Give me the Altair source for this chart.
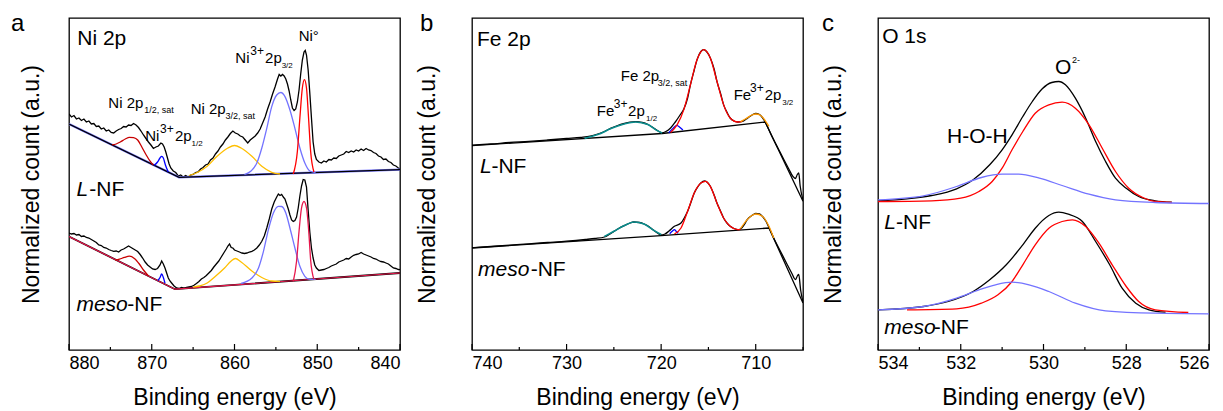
import altair as alt
import pandas as pd

FONT = "Liberation Sans"
W, H = 331, 332

# ---------------- Panel a : Ni 2p ----------------
ni_ticks = [880, 870, 860, 850, 840]
ni_minor = [875, 865, 855, 845]
ni_l_raw = [(880.0, 236), (879.7, 233), (879.4, 234.5), (879.1, 231), (878.8, 232), (878.5, 229.5), (878.2, 231),
            (877.9, 228), (877.6, 229), (877.3, 226), (877.0, 226.5), (876.7, 223.5), (876.4, 224), (876.1, 221),
            (875.8, 222), (875.5, 219), (875.2, 220), (874.9, 217.5), (874.6, 217), (874.3, 219), (874.0, 220.5),
            (873.7, 221.5), (873.4, 223.5), (873.1, 223), (872.8, 225), (872.5, 224.5), (872.2, 226.5), (871.9, 225),
            (871.6, 222.5), (871.3, 219), (871.0, 215), (870.7, 211.5), (870.4, 208), (870.1, 205), (869.8, 201.5),
            (869.5, 203), (869.2, 204), (868.9, 207), (868.7, 206), (868.5, 203), (868.3, 198), (868.1, 192),
            (867.9, 186), (867.7, 182), (867.4, 179), (867.1, 177.5), (866.8, 174), (866.5, 175), (866.2, 173),
            (865.9, 174.5), (865.6, 173), (865.3, 175), (865.0, 175.5), (864.7, 177.5), (864.4, 178), (864.1, 181),
            (863.8, 182.5), (863.5, 185), (863.2, 186), (862.9, 190), (862.6, 192), (862.3, 196), (862.0, 199),
            (861.7, 203), (861.4, 206), (861.1, 210), (860.8, 213), (860.5, 216.5), (860.2, 219), (859.9, 217),
            (859.6, 216), (859.3, 214), (859.0, 213), (858.7, 210), (858.4, 207), (858.1, 210), (857.8, 212),
            (857.5, 214), (857.2, 217), (856.9, 221), (856.6, 227), (856.3, 233), (856.0, 241), (855.7, 248),
            (855.4, 256), (855.1, 263), (854.8, 271), (854.6, 275.5), (854.4, 274), (854.2, 275.5), (854.0, 274),
            (853.8, 271), (853.6, 266), (853.4, 259), (853.2, 250), (853.0, 242), (852.8, 239.5), (852.6, 241),
            (852.4, 248), (852.2, 260), (852.0, 276), (851.8, 290), (851.6, 298), (851.45, 299.5), (851.3, 295),
            (851.1, 280), (850.9, 257), (850.7, 232), (850.5, 208), (850.3, 196), (850.1, 190.5), (849.8, 188),
            (849.5, 187), (849.2, 189), (848.9, 188), (848.6, 190.5), (848.3, 190), (848.0, 192), (847.7, 191.5),
            (847.4, 194), (847.1, 195), (846.8, 196), (846.5, 198.5), (846.2, 197.5), (845.9, 199), (845.6, 198),
            (845.3, 200), (845.0, 199), (844.7, 201), (844.4, 199.5), (844.1, 201.5), (843.8, 200), (843.5, 199.5),
            (843.2, 197.5), (842.9, 196.5), (842.6, 194), (842.3, 193), (842.0, 190.5), (841.7, 191), (841.4, 188.5),
            (841.1, 187.5), (840.8, 185), (840.5, 184), (840.2, 182), (840.0, 181)]
ni_m_raw = [(880.0, 117), (879.7, 116), (879.4, 116.5), (879.1, 115), (878.8, 115.5), (878.5, 113.5), (878.2, 114),
            (877.9, 112.5), (877.6, 112), (877.3, 110.5), (877.0, 109), (876.7, 107.5), (876.4, 105), (876.1, 104.5),
            (875.8, 102.5), (875.5, 102), (875.2, 100.5), (874.9, 99.5), (874.6, 98.7), (874.3, 99), (874.0, 98),
            (873.7, 100), (873.4, 101), (873.1, 102.5), (872.8, 104), (872.6, 103), (872.3, 101.5), (872.0, 100),
            (871.7, 98.5), (871.4, 95.5), (871.1, 92), (870.8, 88), (870.5, 85), (870.2, 83), (869.9, 81),
            (869.6, 80.5), (869.3, 81.5), (869.0, 85), (868.8, 89), (868.6, 86), (868.4, 82), (868.2, 77),
            (868.0, 72), (867.8, 69), (867.6, 67), (867.3, 64), (867.0, 62), (866.7, 61.5), (866.4, 62.5),
            (866.1, 61.8), (865.8, 62.5), (865.5, 63), (865.2, 63.5), (864.9, 64.7), (864.6, 66.5), (864.3, 68.5),
            (864.0, 71), (863.7, 72.5), (863.4, 74.5), (863.1, 77), (862.8, 79.5), (862.5, 83), (862.2, 86),
            (861.9, 89), (861.6, 93), (861.3, 97), (861.0, 101), (860.8, 104), (860.6, 106), (860.4, 102.5),
            (860.2, 102), (860.0, 100), (859.7, 99), (859.4, 98), (859.1, 97), (858.8, 96.5), (858.5, 97),
            (858.2, 98), (857.9, 98.7), (857.6, 100), (857.3, 102), (857.0, 105), (856.7, 108.7), (856.4, 114),
            (856.1, 122), (855.8, 131), (855.5, 141), (855.2, 148), (854.9, 153), (854.7, 156), (854.5, 154.5),
            (854.3, 155.5), (854.1, 153), (853.9, 151), (853.7, 146), (853.5, 141), (853.3, 135), (853.1, 130),
            (852.9, 128.5), (852.7, 129.5), (852.5, 133), (852.3, 142), (852.1, 154), (851.9, 164), (851.7, 170.5),
            (851.5, 170), (851.3, 163), (851.1, 140), (850.9, 118), (850.7, 102), (850.5, 92), (850.3, 85),
            (850.1, 82), (849.8, 79.5), (849.5, 80), (849.2, 80.5), (848.9, 81.5), (848.6, 82.5), (848.3, 84),
            (848.0, 85), (847.7, 86), (847.4, 88), (847.1, 89), (846.8, 90), (846.5, 91.5), (846.2, 91),
            (845.9, 93), (845.6, 94.7), (845.3, 95.5), (845.0, 96), (844.7, 97.5), (844.4, 96), (844.1, 95),
            (843.8, 94), (843.5, 93), (843.2, 91.5), (842.9, 91), (842.6, 89.5), (842.3, 88.5), (842.0, 88),
            (841.7, 87), (841.4, 86), (841.1, 84), (840.8, 82), (840.5, 81.5), (840.2, 80.5), (840.0, 80.4)]
ni_l_bg = [(880, 226), (866.7, 172.7), (840, 180.4)]
ni_m_bg = [(880, 113.5), (867.2, 60.8), (840, 77)]
ni_l_sat12 = [(874.8, 205.2), (874.3, 206), (873.8, 208), (873.2, 211), (872.7, 212.7), (872.2, 212.3),
              (871.7, 210), (871.2, 203), (870.7, 195.5), (870.2, 188.8), (869.8, 185)]
ni_l_p12 = [(869.7, 184.7), (869.3, 188), (869.0, 192), (868.8, 193.7), (868.6, 192), (868.35, 185), (868.0, 177.9)]
ni_l_sat32 = [(865.5, 174.5), (864.5, 177.5), (863.3, 183.7), (862.1, 193.7), (860.8, 202), (860.0, 204.5),
              (859.2, 202), (857.9, 193.7), (856.7, 183.7), (855.5, 177.7), (854.5, 176)]
ni_l_p32 = [(858.8, 175.5), (858.0, 179), (857.3, 187), (856.7, 202), (856.1, 221.7), (855.5, 243.4), (854.9, 255),
            (854.4, 257.5), (853.9, 253.4), (853.3, 240), (852.7, 221.7), (852.1, 202), (851.5, 187), (850.9, 179),
            (850.2, 177.4)]
ni_l_ni0 = [(852.9, 176), (852.4, 198.7), (852.1, 232), (851.8, 262), (851.55, 270.4), (851.3, 262), (851.05, 232),
            (850.8, 198.7), (850.4, 178)]
ni_m_sat12 = [(874.4, 89.9), (873.9, 90.8), (873.3, 92.6), (872.7, 93.8), (872.1, 91.6), (871.5, 86), (871.0, 80),
              (870.4, 74.1)]
ni_m_p12 = [(869.25, 69.5), (869.0, 72.5), (868.8, 76), (868.6, 72.5), (868.4, 66.8)]
ni_m_sat32 = [(865.0, 62.8), (864.3, 64), (863.3, 67), (862.3, 73.7), (861.2, 82), (860.4, 89), (859.9, 91.5),
              (859.2, 88), (857.9, 79), (856.7, 72.5), (855.5, 69), (854.5, 68.7)]
ni_m_p32 = [(859.2, 66.5), (857.9, 72), (857.1, 82), (856.5, 98.7), (855.9, 120.4), (855.3, 137), (854.7, 143.7),
            (854.3, 143.5), (853.8, 137), (853.3, 122), (852.7, 102), (852.1, 83.7), (851.5, 73.7), (850.9, 70.6),
            (850.2, 70.6)]
ni_m_ni0 = [(852.9, 68.5), (852.5, 88.7), (852.2, 118.7), (851.9, 142), (851.6, 148.5), (851.3, 142), (851.0, 115.4),
            (850.8, 90), (850.4, 70.6)]
ni_text = [("Ni 2p", 879.0, 304.7, 21), ("Ni 2p", 875.25, 241.7, 15), ("1/2, sat", 870.9, 237.5, 9),
           ("Ni 2p", 865.3, 235.7, 15), ("3/2, sat", 861.1, 231.5, 9),
           ("Ni", 870.8, 208.7, 15), ("3+", 869.0, 217.5, 12), ("2p", 867.2, 208.7, 15), ("1/2", 865.2, 204.5, 8),
           ("Ni", 859.9, 286.7, 15), ("3+", 858.1, 295.5, 12), ("2p", 856.3, 286.7, 15), ("3/2", 854.3, 282.5, 8),
           ("Ni°", 852.25, 308.7, 15), ("-NF", 877.55, 153.7, 21), ("-NF", 872.95, 38.7, 21)]
ni_italic = [("L", 879.1, 153.7, 21), ("meso", 879.1, 38.7, 21)]

# ---------------- Panel b : Fe 2p ----------------
fe_ticks = [740, 730, 720, 710]
fe_minor = [735, 725, 715, 705]
fe_l_raw = [(740, 204.8), (738, 206), (736, 207.5), (734, 208.6), (732, 210), (730, 211.5), (728.5, 212.6),
            (727.5, 213.8), (726.7, 216), (726, 218.5), (725.3, 221.8), (724.6, 224.5), (723.9, 226.5),
            (723.3, 227.8), (722.7, 228.3), (722, 227.5), (721.4, 225.5), (720.9, 222.8), (720.4, 219.5),
            (719.9, 217.2), (719.5, 218.5), (719, 222), (718.5, 228), (718, 235), (717.6, 241), (717.2, 252),
            (716.9, 265.4), (716.5, 280), (716.2, 290.4), (715.8, 298.5), (715.5, 300.4), (715.2, 298.5),
            (714.8, 292), (714.4, 281), (714.1, 268.7), (713.7, 256), (713.4, 245.4), (713, 237), (712.7, 232),
            (712.3, 229), (711.9, 228), (711.4, 228.7), (711, 231), (710.7, 233), (710.3, 235.5), (710, 236.5),
            (709.6, 235.5), (709.3, 232.5), (709, 228), (708.6, 220), (708.2, 212), (707.6, 201), (707, 190),
            (706.5, 181), (706.1, 174), (705.8, 171.5), (705.6, 175.5), (705.45, 177), (705.3, 164), (705, 150)]
fe_m_raw = [(740, 102.3), (738, 103.5), (736, 104.8), (734, 106.2), (732, 107.5), (730, 108.8), (728, 110.5),
            (727, 111.5), (726, 113), (725.5, 115.5), (725, 118.5), (724.5, 121.5), (723.9, 124.4), (723.4, 126.5),
            (722.9, 128), (722.3, 127.5), (721.8, 126), (721.3, 123.5), (720.9, 120.4), (720.4, 117), (720, 115),
            (719.6, 116), (719.2, 118.7), (718.6, 123.7), (717.9, 127), (717.5, 133), (717.2, 138.7), (716.8, 149),
            (716.5, 157), (716.1, 163.5), (715.8, 167), (715.4, 169), (715.1, 167.5), (714.8, 163.7), (714.4, 155),
            (714.1, 147), (713.7, 138.5), (713.4, 132), (713, 126.5), (712.7, 123.7), (712.3, 121.5), (711.9, 120.4),
            (711.6, 121), (711.2, 125.5), (710.9, 130.4), (710.4, 134.5), (710, 136.5), (709.6, 136), (709.3, 133.7),
            (708.9, 128.5), (708.6, 122.5), (708.1, 112), (707.4, 99), (706.7, 86), (706.2, 77), (705.8, 70.4),
            (705.6, 74), (705.45, 75.5), (705.25, 60), (705, 48)]
fe_l_bg = [(740, 204.4), (719.9, 216.5), (709, 228), (705, 148.7)]
fe_m_bg = [(740, 102), (720, 114.4), (708.6, 122), (705, 47)]
fe_l_p12 = [(728.1, 211.6), (726.7, 215.4), (725.3, 221.4), (723.9, 226), (722.7, 228), (721.4, 225.4),
            (720.6, 220.4), (719.9, 217)]
fe_l_sat = [(719.2, 217.3), (718.7, 222), (718.35, 224.7), (718.0, 222.5), (717.7, 220)]
fe_l_p32 = [(719.0, 217.6), (718.3, 225.4), (717.6, 240.4), (716.9, 265.4), (716.2, 290.4), (715.5, 300.4),
            (714.8, 292), (714.1, 268.7), (713.4, 245.4), (712.7, 232), (711.9, 228), (711.4, 228.7)]
fe_l_p32b = [(711.6, 228.3), (711.0, 231.5), (710.4, 235), (710.0, 236), (709.5, 234.7), (709.0, 229.4),
             (708.6, 223.7)]
fe_m_p12 = [(726, 113.5), (725, 118.7), (723.9, 124.4), (722.9, 128), (721.8, 126), (720.9, 120.4), (720, 115.4)]
fe_m_sat = [(719.1, 116.3), (718.8, 119), (718.6, 120.4), (718.4, 118.5), (718.2, 116.8)]
fe_m_p32 = [(718.6, 116), (717.9, 122), (717.2, 138.7), (716.5, 157), (715.8, 167), (715.3, 168.7), (714.8, 163.7),
            (714.1, 147), (713.4, 132), (712.7, 123.7), (711.9, 120.4), (711.6, 120.6)]
fe_m_p32b = [(711.6, 121.5), (710.9, 130.4), (710.4, 134.5), (710, 136), (709.3, 133.7), (708.6, 123.7),
             (708.1, 112)]
fe_text = [("Fe 2p", 739.47, 303.7, 21), ("Fe 2p", 724.27, 268.7, 15), ("3/2, sat", 720.36, 264.5, 9),
           ("Fe", 726.8, 233.7, 15), ("3+", 725.0, 242.5, 12), ("2p", 723.5, 233.7, 15), ("1/2", 721.6, 229.5, 8),
           ("Fe", 712.33, 249.7, 15), ("3+", 710.6, 258.5, 12), ("2p", 709.05, 249.7, 15), ("3/2", 707.2, 245.5, 8),
           ("-NF", 737.95, 176.7, 21), ("-NF", 733.8, 73.7, 21)]
fe_italic = [("L", 739.16, 176.7, 21), ("meso", 739.37, 73.7, 21)]

# ---------------- Panel c : O 1s ----------------
o_ticks = [534, 532, 530, 528, 526]
o_minor = [533, 531, 529, 527]
o_l_raw = [(534, 149.2), (533.3, 151.2), (532.7, 154.5), (532.1, 161.2), (531.7, 170.2), (531.3, 185.2),
           (531.0, 200.2), (530.76, 215.2), (530.5, 233.5), (530.27, 248.5), (530.03, 261.2), (529.8, 267.5),
           (529.63, 268.5), (529.47, 265.2), (529.23, 251.8), (528.98, 231.8), (528.74, 208.5), (528.5, 188.5),
           (528.26, 171.8), (528.0, 161.8), (527.7, 153.5), (527.3, 149.2), (526.9, 147.8)]
o_l_o2 = [(534, 148.5), (532.7, 149.2), (532.0, 151.8), (531.56, 158.5), (531.24, 168.5), (531.0, 181.8),
          (530.76, 200.2), (530.5, 218.5), (530.2, 236.8), (529.87, 245.2), (529.55, 247.8), (529.23, 241.8),
          (528.9, 225.2), (528.58, 201.8), (528.26, 178.5), (527.94, 161.8), (527.6, 152.5), (527.3, 148.5),
          (526.9, 147.5)]
o_l_h2o = [(534, 150.2), (532.9, 154.2), (532.1, 163.5), (531.5, 172.5), (531.0, 175.8), (530.6, 175.8),
           (530.1, 171.8), (529.55, 164.5), (528.9, 155.8), (528.26, 150.2), (527.3, 147.5), (526, 146.5)]
o_m_raw = [(534, 40.2), (532.9, 43.5), (532.3, 48.5), (531.7, 58.5), (531.3, 70.2), (530.9, 85.2), (530.5, 105.2),
           (530.2, 121.8), (529.87, 134.5), (529.63, 137.8), (529.4, 135.8), (529.06, 128.5), (528.74, 108.5),
           (528.4, 85.2), (528.1, 61.8), (527.77, 46.8), (527.45, 40.2), (527.05, 37.8)]
o_m_o2 = [(533.3, 40.2), (532.1, 41.2), (531.5, 46.8), (531.1, 55.2), (530.76, 68.5), (530.5, 85.2), (530.2, 105.2),
          (529.87, 121.8), (529.55, 128.5), (529.3, 130.2), (528.98, 123.5), (528.66, 106.8), (528.34, 85.2),
          (528.0, 63.5), (527.7, 48.5), (527.3, 40.2), (526.5, 37.5)]
o_m_h2o = [(534, 40.2), (532.9, 43.5), (532.1, 51.8), (531.56, 60.2), (531.16, 65.2), (530.76, 67.8),
           (530.35, 65.2), (529.87, 58.5), (529.23, 46.8), (528.5, 39.2), (527.3, 36.8), (526, 36.2)]
o_text = [("O 1s", 533.9, 306.7, 21), ("O", 529.72, 275.7, 21), ("2-", 529.31, 286.7, 9),
          ("H-O-H", 532.33, 206.7, 21), ("-NF", 533.565, 120.7, 21), ("-NF", 532.65, 15.7, 21)]
o_italic = [("L", 533.85, 120.7, 21), ("meso", 533.85, 15.7, 21)]

BLACK = "#000000"
RED = "#ff0000"
DKRED = "#c80000"
CRIMSON = "#e8174c"
LBLUE = "#7373ff"
BLUE = "#0000ff"
GOLD = "#ffbf00"
TEAL = "#0a8c8c"
ORANGE = "#ff9a00"


def panel(domain, ticks, minor, lines, texts, italics, letter, letter_dx, title_pad):
    xs = alt.Scale(domain=domain, reverse=True, nice=False, zero=False)
    ys = alt.Scale(domain=[0, H], nice=False, zero=False)
    xax = alt.Axis(values=ticks, title="Binding energy (eV)", format="d", labelFontSize=18, titleFontSize=23,
                   labelPadding=4, titlePadding=14, ticks=False, tickSize=0, domain=False, grid=False)
    yax = alt.Axis(title="Normalized count (a.u.)", labels=False, ticks=False, tickSize=0, domain=False,
                   grid=False, titleFontSize=23, titlePadding=title_pad)
    xe = alt.X("E:Q", scale=xs, axis=xax)
    ye = alt.Y("v:Q", scale=ys, axis=yax)
    layers = []
    for pts, color, width, interp in lines:
        df = pd.DataFrame(pts, columns=["E", "v"])
        layers.append(alt.Chart(df).mark_line(color=color, strokeWidth=width, interpolate=interp,
                                              clip=True).encode(x=xe, y=ye))
    tk = pd.DataFrame({"E": ticks + minor, "v": [0] * (len(ticks) + len(minor)),
                       "v2": [6] * len(ticks) + [3] * len(minor)})
    layers.append(alt.Chart(tk).mark_rule(color="black", strokeWidth=1.2).encode(
        x=xe, y=ye, y2="v2:Q"))
    tdf = pd.DataFrame(texts, columns=["t", "E", "v", "s"])
    layers.append(alt.Chart(tdf).mark_text(align="left", baseline="alphabetic", font=FONT, color="black").encode(
        x=xe, y=ye, text="t:N", size=alt.Size("s:Q", scale=None, legend=None)))
    idf = pd.DataFrame(italics, columns=["t", "E", "v", "s"])
    layers.append(alt.Chart(idf).mark_text(align="left", baseline="alphabetic", font=FONT, color="black",
                                           fontStyle="italic").encode(
        x=xe, y=ye, text="t:N", size=alt.Size("s:Q", scale=None, legend=None)))
    ldf = pd.DataFrame({"t": [letter]})
    layers.append(alt.Chart(ldf).mark_text(align="left", baseline="alphabetic", font=FONT, color="black",
                                           fontSize=24).encode(
        x=alt.value(letter_dx), y=alt.value(13), text="t:N"))
    return alt.layer(*layers).properties(width=W, height=H)


S = 1.3
pa = panel([840, 880], ni_ticks, ni_minor, [
    (ni_l_raw, BLACK, S, "linear"), (ni_m_raw, BLACK, S, "linear"),
    (ni_l_bg, LBLUE, 2.2, "linear"), (ni_l_bg, BLACK, 1.3, "linear"),
    (ni_m_bg, BLACK, 1.8, "linear"), (ni_m_bg, CRIMSON, 1.2, "linear"),
    (ni_l_sat12, DKRED, S, "monotone"), (ni_l_p12, BLUE, S, "monotone"), (ni_l_sat32, GOLD, S, "monotone"),
    (ni_l_p32, LBLUE, S, "monotone"), (ni_l_ni0, RED, S, "monotone"),
    (ni_m_sat12, DKRED, S, "monotone"), (ni_m_p12, BLUE, S, "monotone"), (ni_m_sat32, GOLD, S, "monotone"),
    (ni_m_p32, LBLUE, S, "monotone"), (ni_m_ni0, CRIMSON, S, "monotone"),
], ni_text, ni_italic, "a", -58, 26)

pb = panel([705, 740], fe_ticks, fe_minor, [
    (fe_l_raw, BLACK, S, "monotone"), (fe_m_raw, BLACK, S, "monotone"),
    (fe_l_bg, BLACK, S, "linear"), (fe_m_bg, BLACK, S, "linear"),
    (fe_l_p12, TEAL, 1.6, "monotone"), (fe_l_sat, BLUE, S, "monotone"), (fe_l_p32, RED, S, "monotone"),
    (fe_l_p32b, ORANGE, S, "monotone"),
    (fe_m_p12, TEAL, 1.6, "monotone"), (fe_m_sat, BLUE, S, "monotone"), (fe_m_p32, RED, S, "monotone"),
    (fe_m_p32b, ORANGE, S, "monotone"),
], fe_text, fe_italic, "b", -52, 33)

pc = panel([526, 534], o_ticks, o_minor, [
    (o_l_raw, BLACK, S, "monotone"), (o_l_o2, RED, S, "monotone"), (o_l_h2o, LBLUE, S, "monotone"),
    (o_m_raw, BLACK, S, "monotone"), (o_m_o2, RED, S, "monotone"), (o_m_h2o, LBLUE, S, "monotone"),
], o_text, o_italic, "c", -56, 33)

chart = alt.hconcat(alt.hconcat(pa, pb, spacing=13), pc, spacing=16).properties(
    padding={"left": 10, "top": 11, "right": 0, "bottom": 0}
).configure_view(stroke="black", strokeWidth=1.3).configure_axis(
    labelFont=FONT, titleFont=FONT, labelColor="black", titleColor="black", titleFontWeight="normal"
)

chart.save("out.html", embed_options={"renderer": "svg", "actions": False})
